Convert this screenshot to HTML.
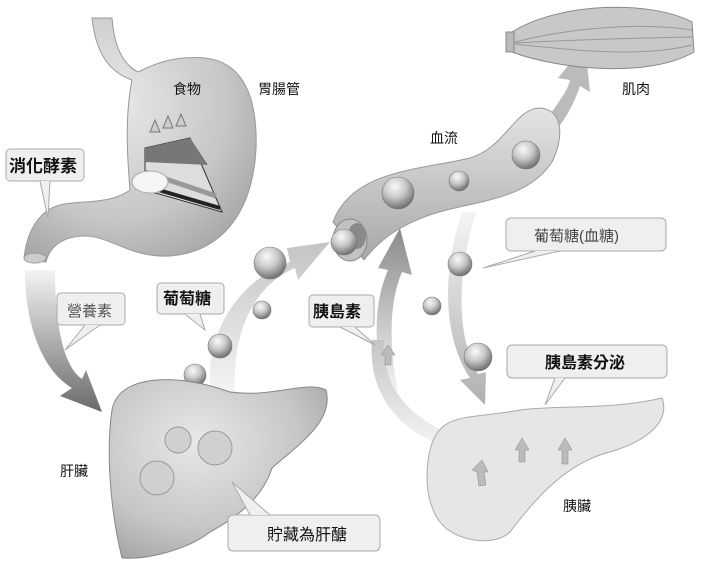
<!DOCTYPE html>
<html><head><meta charset="utf-8"><style>
html,body{margin:0;padding:0;background:#fff;width:714px;height:566px;overflow:hidden}
svg{display:block}
text{font-family:"Liberation Sans","Noto Sans CJK TC",sans-serif;fill:#111}
</style></head><body>
<svg width="714" height="566" viewBox="0 0 714 566" xmlns="http://www.w3.org/2000/svg">
<defs>
<radialGradient id="org" cx="0.4" cy="0.35" r="0.8"><stop offset="0" stop-color="#e8e8e8"/><stop offset="0.6" stop-color="#c6c6c6"/><stop offset="1" stop-color="#9c9c9c"/></radialGradient>
<radialGradient id="ball" cx="0.4" cy="0.3" r="0.7"><stop offset="0" stop-color="#fafafa"/><stop offset="0.5" stop-color="#c8c8c8"/><stop offset="1" stop-color="#707070"/></radialGradient>
<linearGradient id="arr1" x1="0" y1="0" x2="0" y2="1"><stop offset="0" stop-color="#f4f4f4"/><stop offset="1" stop-color="#6a6a6a"/></linearGradient>
<linearGradient id="arr2" x1="0" y1="1" x2="0" y2="0"><stop offset="0" stop-color="#f4f4f4"/><stop offset="1" stop-color="#c4c4c4"/></linearGradient>
<linearGradient id="arr3" x1="0" y1="1" x2="0" y2="0"><stop offset="0" stop-color="#f4f4f4"/><stop offset="1" stop-color="#8a8a8a"/></linearGradient>
<linearGradient id="arr4" x1="0" y1="0" x2="0" y2="1"><stop offset="0" stop-color="#f4f4f4"/><stop offset="1" stop-color="#b0b0b0"/></linearGradient>
<linearGradient id="tube" x1="0" y1="0" x2="0" y2="1"><stop offset="0" stop-color="#e4e4e4"/><stop offset="1" stop-color="#a8a8a8"/></linearGradient>
</defs>

<!-- stomach -->
<path d="M92,18 C96,55 110,72 132,80 C124,120 128,165 130,190 C110,205 80,200 60,205 C40,210 27,230 24,258 L46,262 C50,245 65,236 85,236 C110,236 130,258 170,256 C220,252 252,215 256,150 C258,95 242,62 205,58 C172,55 150,66 138,72 C122,64 114,45 112,18 Z" fill="url(#org)" stroke="#999"/>
<ellipse cx="35" cy="258" rx="11" ry="5" fill="#ccc" stroke="#999"/>
<polygon points="145,148 190,138 222,212 145,190" fill="#ddd" stroke="#333"/>
<polygon points="145,148 190,138 208,165 145,162" fill="#777"/>
<line x1="145" y1="172" x2="216" y2="196" stroke="#999" stroke-width="5"/>
<line x1="145" y1="186" x2="220" y2="208" stroke="#222" stroke-width="4"/>
<path d="M150,132 l5,-12 l5,12 z M163,128 l5,-12 l5,12 z M176,126 l5,-12 l5,12 z" fill="#ccc" stroke="#777"/>
<ellipse cx="150" cy="182" rx="18" ry="11" fill="#f5f5f5" stroke="#aaa"/>
<text x="173" y="94" font-size="14">食物</text>
<text x="258" y="94" font-size="14">胃腸管</text>

<!-- arrows -->
<path d="M25,270 C25,330 45,372 72,388 L60,396 L102,412 L86,370 L82,379 C62,365 55,320 55,270 Z" fill="url(#arr1)"/>
<path d="M210,392 C205,330 240,280 290,262 L287,248 L330,242 L298,280 L295,268 C255,285 232,330 235,392 Z" fill="url(#arr2)"/>
<path d="M385,392 C372,340 375,300 388,270 L378,268 L400,228 L412,275 L402,272 C390,300 388,340 398,392 Z" fill="url(#arr3)"/>
<path d="M440,445 C390,425 368,385 372,340 L384,340 C382,380 400,410 445,432 Z" fill="url(#arr2)"/>
<path d="M462,212 C440,280 445,340 470,378 L460,380 L485,405 L486,372 L478,374 C458,340 455,280 476,212 Z" fill="url(#arr4)"/>
<path d="M545,122 C560,100 568,90 570,80 L558,78 L585,45 L590,92 L580,86 C575,100 570,112 558,128 Z" fill="#bbb"/>

<!-- blood vessel -->
<path d="M333,222 C352,170 420,170 470,158 C505,148 515,108 540,108 C565,110 563,140 552,162 C532,192 500,198 455,208 C410,218 382,236 364,260 Z" fill="url(#tube)" stroke="#999"/>
<ellipse cx="350" cy="240" rx="17" ry="21" fill="#c2c2c2" stroke="#888"/>
<ellipse cx="357" cy="236" rx="9" ry="13" fill="#8a8a8a"/>
<text x="430" y="143" font-size="14">血流</text>

<!-- muscle -->
<path d="M512,32 C560,2 650,0 692,22 L694,52 C650,78 560,70 512,52 Z" fill="#c8c8c8" stroke="#888"/>
<path d="M515,42 C570,28 640,22 692,30 M515,44 C570,50 640,58 692,45 M515,43 C570,40 640,38 692,37" stroke="#999" fill="none"/>
<rect x="506" y="32" width="8" height="20" fill="#bbb" stroke="#888"/>
<text x="622" y="94" font-size="14">肌肉</text>

<g fill="url(#ball)" stroke="#777" stroke-width="0.6">
<circle cx="344" cy="242" r="13"/><circle cx="398" cy="193" r="16"/><circle cx="459" cy="181" r="10"/><circle cx="526" cy="155" r="14"/>
<circle cx="270" cy="263" r="16"/><circle cx="262" cy="310" r="9"/><circle cx="220" cy="346" r="12"/><circle cx="195" cy="375" r="11"/>
<circle cx="460" cy="264" r="12"/><circle cx="432" cy="306" r="9"/><circle cx="478" cy="357" r="14"/>
</g>

<!-- liver -->
<path d="M112,410 C118,375 175,372 230,392 C275,398 305,380 326,390 C334,420 302,442 272,468 C262,500 232,520 210,532 C190,548 150,560 122,558 C110,510 106,450 112,410 Z" fill="url(#org)" stroke="#888"/>
<g fill="#d0d0d0" stroke="#999"><circle cx="178" cy="440" r="13"/><circle cx="215" cy="448" r="17"/><circle cx="157" cy="478" r="17"/></g>
<text x="60" y="476" font-size="14">肝臟</text>

<!-- pancreas -->
<path d="M430,450 C440,410 470,420 520,410 C560,405 610,410 662,398 C670,420 650,440 610,452 C570,462 540,492 510,532 C495,547 455,542 440,522 C425,502 425,472 430,450 Z" fill="#e6e6e6" stroke="#aaa"/>
<g fill="#bbb" stroke="#888" stroke-width="0.5">
<path d="M515,450 L522,438 L529,450 L525,450 L525,462 L519,462 L519,450 Z"/>
<path d="M558,450 L565,438 L572,450 L568,450 L568,464 L562,464 L562,450 Z"/>
<path d="M472,470 L482,460 L488,472 L484,472 L486,485 L479,486 L477,472 Z"/>
<path d="M381,355 L388,345 L395,355 L391,355 L391,365 L385,365 L385,355 Z"/>
</g>
<text x="563" y="511" font-size="14">胰臟</text>

<g fill="#efefef" stroke="#aaa" stroke-width="1">
<rect x="6" y="149" width="78" height="32" rx="4"/><path d="M40,181 L48,218 L50,181"/>
<rect x="57" y="293" width="68" height="32" rx="4"/><path d="M85,325 L65,350 L100,325"/>
<rect x="157" y="283" width="67" height="31" rx="4"/><path d="M185,314 L205,330 L200,314"/>
<rect x="309" y="295" width="65" height="32" rx="4"/><path d="M340,327 L375,345 L355,327"/>
<rect x="506" y="218" width="160" height="33" rx="5"/><path d="M535,251 L483,268 L560,251"/>
<rect x="507" y="345" width="160" height="33" rx="5"/><path d="M555,378 L545,405 L565,378"/>
<rect x="228" y="515" width="152" height="36" rx="5"/><path d="M250,515 L232,482 L270,515"/>
</g>
<text x="9" y="172" font-size="17" font-weight="bold">消化酵素</text>
<text x="67" y="316" font-size="15" style="fill:#555">營養素</text>
<text x="163" y="304" font-size="16" font-weight="bold">葡萄糖</text>
<text x="313" y="317" font-size="16" font-weight="bold">胰島素</text>
<text x="534" y="241" font-size="15" style="fill:#444">葡萄糖(血糖)</text>
<text x="545" y="368" font-size="16" font-weight="bold">胰島素分泌</text>
<text x="267" y="540" font-size="16">貯藏為肝醣</text>
</svg>
</body></html>
